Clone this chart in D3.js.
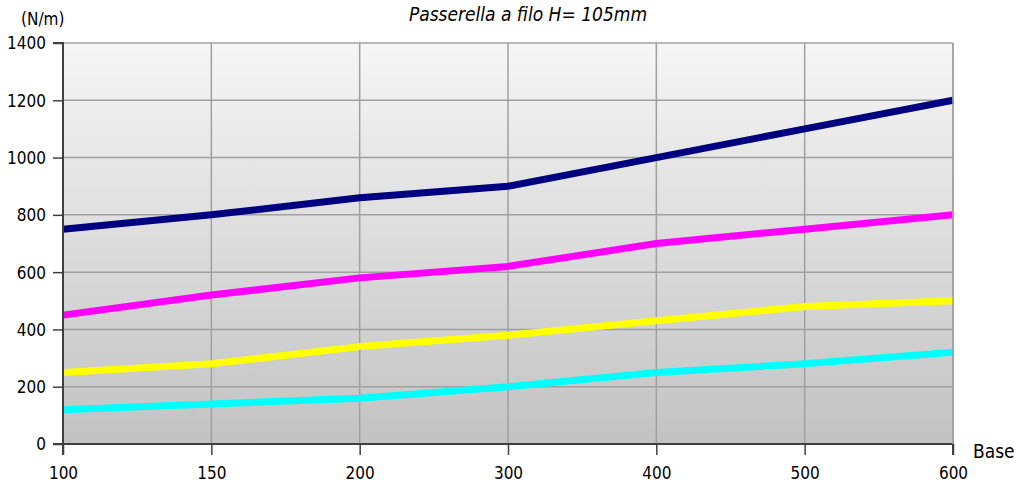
<!DOCTYPE html>
<html><head><meta charset="utf-8">
<script src="https://cdn.jsdelivr.net/npm/d3@7"></script>
<style>body{margin:0;background:#fff}svg{display:block}text{font-family:"DejaVu Sans Condensed","DejaVu Sans",sans-serif}</style>
</head><body><svg id="c" width="1016" height="484"></svg>
<script>
const categories = ["100","150","200","300","400","500","600"];
const yTicks = [0,200,400,600,800,1000,1200,1400];
const seriesNavy = [750,800,860,900,1000,1100,1200];
const seriesMagenta = [450,520,580,620,700,750,800];
const seriesYellow = [250,280,340,380,430,480,500];
const seriesCyan = [120,140,160,200,250,280,320];
const series = [
  {values: seriesNavy, color: "#000080"},
  {values: seriesMagenta, color: "#ff00ff"},
  {values: seriesYellow, color: "#ffff00"},
  {values: seriesCyan, color: "#00ffff"}
];
const L=63,R=953,T=43,B=444;
const svg=d3.select("#c");
const x=d3.scalePoint().domain(categories).range([L,R]);
const y=d3.scaleLinear().domain([0,1400]).range([B,T]);
const defs=svg.append("defs");
const g=defs.append("linearGradient").attr("id","bg").attr("x1",0).attr("y1",0).attr("x2",0).attr("y2",1);
g.append("stop").attr("offset","0%").attr("stop-color","#f6f6f6");
g.append("stop").attr("offset","100%").attr("stop-color","#c2c2c2");
svg.append("rect").attr("x",L).attr("y",T).attr("width",R-L).attr("height",B-T).attr("fill","url(#bg)");
// grid
svg.append("g").selectAll("line").data(yTicks.slice(1)).join("line")
 .attr("x1",L).attr("x2",R).attr("y1",d=>y(d)).attr("y2",d=>y(d)).attr("stroke","#a0a0a0").attr("stroke-width",1.5);
svg.append("g").selectAll("line").data(categories.slice(1)).join("line")
 .attr("x1",d=>x(d)).attr("x2",d=>x(d)).attr("y1",T).attr("y2",B).attr("stroke","#a0a0a0").attr("stroke-width",1.5);
// lines
const line=d3.line().x((d,i)=>x(categories[i])).y(d=>y(d));
series.forEach(s=>{
 svg.append("path").datum(s.values).attr("d",line).attr("fill","none").attr("stroke",s.color).attr("stroke-width",7).attr("stroke-linejoin","round");
});
// axes
const ya=svg.append("g").attr("transform",`translate(${L},0)`).call(d3.axisLeft(y).tickValues(yTicks).tickSize(10).tickPadding(7).tickFormat(d3.format("d")));
const xa=svg.append("g").attr("transform",`translate(0,${B})`).call(d3.axisBottom(x).tickSize(11).tickPadding(12));
[ya,xa].forEach(a=>{a.select(".domain").attr("stroke","#404040").attr("stroke-width",2);
 a.selectAll(".tick line").attr("stroke","#404040").attr("stroke-width",1.5);
 a.selectAll("text").attr("font-size",17).attr("fill","#000").style("font-family",'"DejaVu Sans Condensed","DejaVu Sans",sans-serif');});
ya.select(".domain").attr("d",`M-10,${B}H0V${T}H-10`);
ya.selectAll(".tick text").attr("dy","0.35em");
xa.select(".domain").attr("d",`M${L},11V0H${R}V11`);
svg.append("line").attr("x1",R).attr("x2",R).attr("y1",T).attr("y2",B).attr("stroke","#a0a0a0").attr("stroke-width",1.5);
svg.append("text").attr("x",21).attr("y",25).attr("font-size",17).text("(N/m)");
svg.append("text").attr("x",973).attr("y",458).attr("font-size",19).text("Base");
svg.append("text").attr("x",528).attr("y",21).attr("text-anchor","middle").attr("font-size",19).attr("font-style","italic").text("Passerella a filo H= 105mm");
</script></body></html>
